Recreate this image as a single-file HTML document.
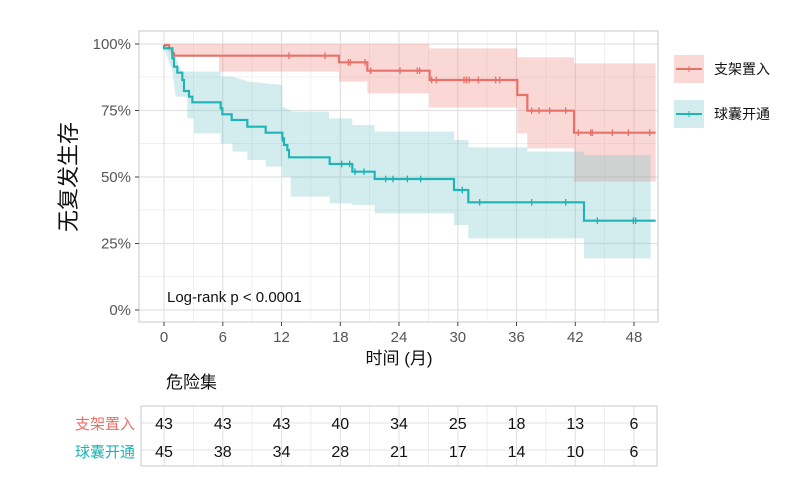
<!DOCTYPE html>
<html><head><meta charset="utf-8"><style>
body{margin:0;background:#fff;}
svg text{font-family:"Liberation Sans","Noto Sans CJK SC",sans-serif;}
</style></head><body>
<svg width="802" height="486" viewBox="0 0 802 486" xmlns="http://www.w3.org/2000/svg">
<rect width="802" height="486" fill="#fff"/>
<g stroke="#ebebeb" stroke-width="0.7">
<line x1="139" x2="658" y1="77" y2="77"/><line x1="139" x2="658" y1="143.5" y2="143.5"/><line x1="139" x2="658" y1="210" y2="210"/><line x1="139" x2="658" y1="276.5" y2="276.5"/>
<line x1="193.4" x2="193.4" y1="31" y2="322"/><line x1="252.1" x2="252.1" y1="31" y2="322"/><line x1="310.9" x2="310.9" y1="31" y2="322"/><line x1="369.6" x2="369.6" y1="31" y2="322"/><line x1="428.4" x2="428.4" y1="31" y2="322"/><line x1="487.1" x2="487.1" y1="31" y2="322"/><line x1="545.9" x2="545.9" y1="31" y2="322"/><line x1="604.6" x2="604.6" y1="31" y2="322"/>
</g>
<g stroke="#e2e2e2" stroke-width="1.2">
<line x1="139" x2="658" y1="44" y2="44"/><line x1="139" x2="658" y1="110.5" y2="110.5"/><line x1="139" x2="658" y1="177" y2="177"/><line x1="139" x2="658" y1="243.5" y2="243.5"/><line x1="139" x2="658" y1="310" y2="310"/>
<line x1="164" x2="164" y1="31" y2="322"/><line x1="222.8" x2="222.8" y1="31" y2="322"/><line x1="281.5" x2="281.5" y1="31" y2="322"/><line x1="340.3" x2="340.3" y1="31" y2="322"/><line x1="399" x2="399" y1="31" y2="322"/><line x1="457.8" x2="457.8" y1="31" y2="322"/><line x1="516.5" x2="516.5" y1="31" y2="322"/><line x1="575.3" x2="575.3" y1="31" y2="322"/><line x1="634" x2="634" y1="31" y2="322"/>
</g>
<g transform="translate(139,30) scale(0.33333)">
<path fill="#f08a80" fill-opacity="0.33" d="M75,42 L870,42 L870,55 L1135,55 L1135,82 L1305,82 L1305,100 L1550,100 L1550,455 L1305,455 L1305,355 L1165,355 L1165,310 L1135,310 L1135,232 L870,232 L870,190 L685,190 L685,155 L600,155 L600,125 L240,125 L240,80 L105,80 L75,50 Z"/>
<path fill="#6cc4c8" fill-opacity="0.3" d="M75,42 L105,60 L120,110 L130,125 L245,125 L245,140 L280,140 L330,155 L430,165 L430,230 L460,245 L570,245 L570,265 L640,265 L640,285 L707,285 L707,305 L945,305 L945,330 L988,330 L988,352 L1165,352 L1165,365 L1335,365 L1335,375 L1535,375 L1535,685 L1335,685 L1335,625 L988,625 L988,585 L945,585 L945,550 L707,550 L707,525 L640,525 L640,520 L572,520 L572,500 L455,500 L455,440 L430,440 L430,410 L380,410 L380,390 L325,390 L325,365 L280,365 L280,340 L245,340 L245,310 L165,310 L165,265 L145,265 L145,200 L110,200 L100,120 L75,55 Z"/>
<path fill="none" stroke="#e8716a" stroke-width="6.5" d="M75,45 L90,45 L90,55 L100,55 L100,70 L105,70 L105,77 L600,77 L600,97 L685,97 L685,122 L872,122 L872,150 L1135,150 L1135,195 L1165,195 L1165,242 L1305,242 L1305,308 L1550,308"/>
<path fill="none" stroke="#1fb4b6" stroke-width="6.5" d="M75,45 L75,55 L100,55 L100,85 L105,85 L105,110 L115,110 L115,128 L130,128 L130,150 L135,150 L135,183 L150,183 L150,200 L160,200 L160,217 L245,217 L245,235 L250,235 L250,253 L278,253 L278,270 L325,270 L325,290 L380,290 L380,308 L430,308 L430,325 L435,325 L435,345 L445,345 L445,360 L450,360 L450,382 L572,382 L572,402 L640,402 L640,425 L707,425 L707,447 L945,447 L945,480 L988,480 L988,517 L1335,517 L1335,572 L1550,572"/>
<g stroke="#e8716a" stroke-width="4">
<path d="M450,67v20M558,67v20M628,87v20M634,87v20M678,87v20M695,112v20M783,112v20M835,112v20M842,112v20M878,140v20M892,140v20M975,140v20M982,140v20M990,140v20M1018,140v20M1070,140v20M1082,140v20M1178,232v20M1200,232v20M1232,232v20M1280,232v20M1318,298v20M1355,298v20M1360,298v20M1420,298v20M1468,298v20M1532,298v20"/>
</g>
<g stroke="#1fb4b6" stroke-width="4">
<path d="M430,315v20M608,392v20M632,392v20M648,415v20M675,415v20M740,437v20M762,437v20M805,437v20M845,437v20M970,470v20M1022,507v20M1178,507v20M1280,507v20M1375,562v20M1483,562v20M1490,562v20"/>
</g>
</g>
<rect x="139" y="31" width="519" height="291" fill="none" stroke="#c8c8c8" stroke-width="1"/>
<g stroke="#444" stroke-width="1"><line x1="135" x2="139" y1="44" y2="44"/><line x1="135" x2="139" y1="110.5" y2="110.5"/><line x1="135" x2="139" y1="177" y2="177"/><line x1="135" x2="139" y1="243.5" y2="243.5"/><line x1="135" x2="139" y1="310" y2="310"/></g>
<g font-size="15" fill="#555" text-anchor="end">
<text x="131" y="49">100%</text><text x="131" y="115.5">75%</text><text x="131" y="182">50%</text><text x="131" y="248.5">25%</text><text x="131" y="315">0%</text>
</g>
<text transform="translate(76,177) rotate(-90)" font-size="22" fill="#111" text-anchor="middle">无复发生存</text>
<g stroke="#444" stroke-width="1"><line x1="164" x2="164" y1="322" y2="326"/><line x1="222.8" x2="222.8" y1="322" y2="326"/><line x1="281.5" x2="281.5" y1="322" y2="326"/><line x1="340.3" x2="340.3" y1="322" y2="326"/><line x1="399" x2="399" y1="322" y2="326"/><line x1="457.8" x2="457.8" y1="322" y2="326"/><line x1="516.5" x2="516.5" y1="322" y2="326"/><line x1="575.3" x2="575.3" y1="322" y2="326"/><line x1="634" x2="634" y1="322" y2="326"/></g>
<g font-size="15" fill="#555" text-anchor="middle">
<text x="164" y="342">0</text><text x="222.8" y="342">6</text><text x="281.5" y="342">12</text><text x="340.3" y="342">18</text><text x="399" y="342">24</text><text x="457.8" y="342">30</text><text x="516.5" y="342">36</text><text x="575.3" y="342">42</text><text x="634" y="342">48</text>
</g>
<text x="399" y="364" font-size="17" fill="#111" text-anchor="middle">时间 (月)</text>
<text x="167" y="302" font-size="15" fill="#111">Log-rank p &lt; 0.0001</text>
<rect x="674" y="55" width="30" height="28" fill="#f08a80" fill-opacity="0.33"/>
<line x1="676" x2="702" y1="69" y2="69" stroke="#e8716a" stroke-width="2"/><line x1="689" x2="689" y1="66" y2="72" stroke="#e8716a" stroke-width="1"/>
<rect x="674" y="100" width="30" height="28" fill="#6cc4c8" fill-opacity="0.3"/>
<line x1="676" x2="702" y1="114" y2="114" stroke="#1fb4b6" stroke-width="2"/><line x1="689" x2="689" y1="111" y2="117" stroke="#1fb4b6" stroke-width="1"/>
<text x="714" y="74" font-size="14" fill="#111">支架置入</text>
<text x="714" y="119" font-size="14" fill="#111">球囊开通</text>
<text x="166" y="388" font-size="17" fill="#111">危险集</text>
<g stroke="#ebebeb" stroke-width="0.8">
<line x1="193.4" x2="193.4" y1="406" y2="466"/><line x1="252.1" x2="252.1" y1="406" y2="466"/><line x1="310.9" x2="310.9" y1="406" y2="466"/><line x1="369.6" x2="369.6" y1="406" y2="466"/><line x1="428.4" x2="428.4" y1="406" y2="466"/><line x1="487.1" x2="487.1" y1="406" y2="466"/><line x1="545.9" x2="545.9" y1="406" y2="466"/><line x1="604.6" x2="604.6" y1="406" y2="466"/>
</g>
<g stroke="#e2e2e2" stroke-width="1.1">
<line x1="141" x2="657" y1="423" y2="423"/><line x1="141" x2="657" y1="450" y2="450"/>
<line x1="164" x2="164" y1="406" y2="466"/><line x1="222.8" x2="222.8" y1="406" y2="466"/><line x1="281.5" x2="281.5" y1="406" y2="466"/><line x1="340.3" x2="340.3" y1="406" y2="466"/><line x1="399" x2="399" y1="406" y2="466"/><line x1="457.8" x2="457.8" y1="406" y2="466"/><line x1="516.5" x2="516.5" y1="406" y2="466"/><line x1="575.3" x2="575.3" y1="406" y2="466"/><line x1="634" x2="634" y1="406" y2="466"/>
</g>
<rect x="141" y="406" width="516" height="60" fill="none" stroke="#c8c8c8"/>
<g font-size="16" fill="#111" text-anchor="middle">
<text x="164" y="429">43</text><text x="222.8" y="429">43</text><text x="281.5" y="429">43</text><text x="340.3" y="429">40</text><text x="399" y="429">34</text><text x="457.8" y="429">25</text><text x="516.5" y="429">18</text><text x="575.3" y="429">13</text><text x="634" y="429">6</text>
<text x="164" y="457">45</text><text x="222.8" y="457">38</text><text x="281.5" y="457">34</text><text x="340.3" y="457">28</text><text x="399" y="457">21</text><text x="457.8" y="457">17</text><text x="516.5" y="457">14</text><text x="575.3" y="457">10</text><text x="634" y="457">6</text>
</g>
<text x="135" y="429" font-size="15" fill="#e8716a" text-anchor="end">支架置入</text>
<text x="135" y="457" font-size="15" fill="#1fb4b6" text-anchor="end">球囊开通</text>
</svg>
</body></html>
